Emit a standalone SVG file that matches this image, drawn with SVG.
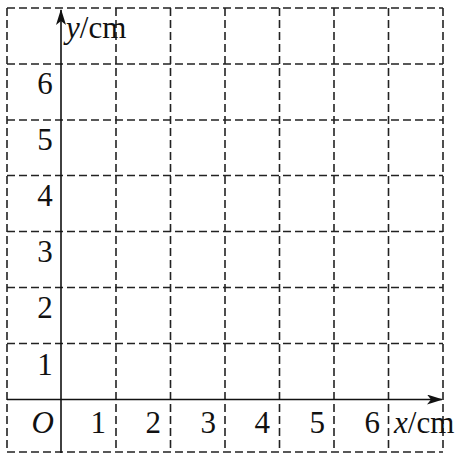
<svg xmlns="http://www.w3.org/2000/svg" width="457" height="457" viewBox="0 0 457 457">
  <style>
    .grid { stroke: #222; stroke-width: 1.6; stroke-dasharray: 8 4; fill: none; }
    .axis { stroke: #111; stroke-width: 1.6; fill: none; }
    .lbl { font-family: "Liberation Serif", "Times New Roman", serif; font-size: 31px; fill: #111; }
    .it { font-style: italic; }
  </style>
  <defs>
    <marker id="arr" viewBox="0 0 16 10" refX="15" refY="5" markerWidth="16" markerHeight="10" markerUnits="userSpaceOnUse" orient="auto">
      <path d="M0,0 L16,5 L0,10 L4,5 Z" fill="#111"/>
    </marker>
  </defs>
  <rect width="457" height="457" fill="#fff"/>
  <g id="grid">
    <line class="grid" x1="7" y1="8" x2="443" y2="8"/>
    <line class="grid" x1="7" y1="64" x2="443" y2="64"/>
    <line class="grid" x1="7" y1="120" x2="443" y2="120"/>
    <line class="grid" x1="7" y1="175.5" x2="443" y2="175.5"/>
    <line class="grid" x1="7" y1="231.5" x2="443" y2="231.5"/>
    <line class="grid" x1="7" y1="287.5" x2="443" y2="287.5"/>
    <line class="grid" x1="7" y1="343.5" x2="443" y2="343.5"/>
    <line class="grid" x1="7" y1="452" x2="443" y2="452"/>
    <line class="grid" x1="7" y1="8" x2="7" y2="452"/>
    <line class="grid" x1="116" y1="8" x2="116" y2="452"/>
    <line class="grid" x1="170.5" y1="8" x2="170.5" y2="452"/>
    <line class="grid" x1="225" y1="8" x2="225" y2="452"/>
    <line class="grid" x1="279.5" y1="8" x2="279.5" y2="452"/>
    <line class="grid" x1="334" y1="8" x2="334" y2="452"/>
    <line class="grid" x1="388.5" y1="8" x2="388.5" y2="452"/>
    <line class="grid" x1="443" y1="8" x2="443" y2="452"/>
  </g>
  <g id="axes">
    <line class="axis" x1="7" y1="399.5" x2="442" y2="399.5" marker-end="url(#arr)"/>
    <line class="axis" x1="61" y1="453" x2="61" y2="10" marker-end="url(#arr)"/>
  </g>
  <g id="y-labels" class="lbl" text-anchor="middle">
    <text x="45" y="94">6</text>
    <text x="45" y="150">5</text>
    <text x="45" y="206">4</text>
    <text x="45" y="262">3</text>
    <text x="45" y="318">2</text>
    <text x="45" y="375">1</text>
  </g>
  <g id="x-labels" class="lbl" text-anchor="end">
    <text class="it" x="54" y="433">O</text>
    <text x="106" y="433">1</text>
    <text x="161" y="433">2</text>
    <text x="216" y="433">3</text>
    <text x="270" y="433">4</text>
    <text x="325" y="433">5</text>
    <text x="380" y="433">6</text>
  </g>
  <g id="axis-titles" class="lbl">
    <text x="66" y="38"><tspan class="it">y</tspan>/cm</text>
    <text x="394" y="433"><tspan class="it">x</tspan>/cm</text>
  </g>
</svg>
